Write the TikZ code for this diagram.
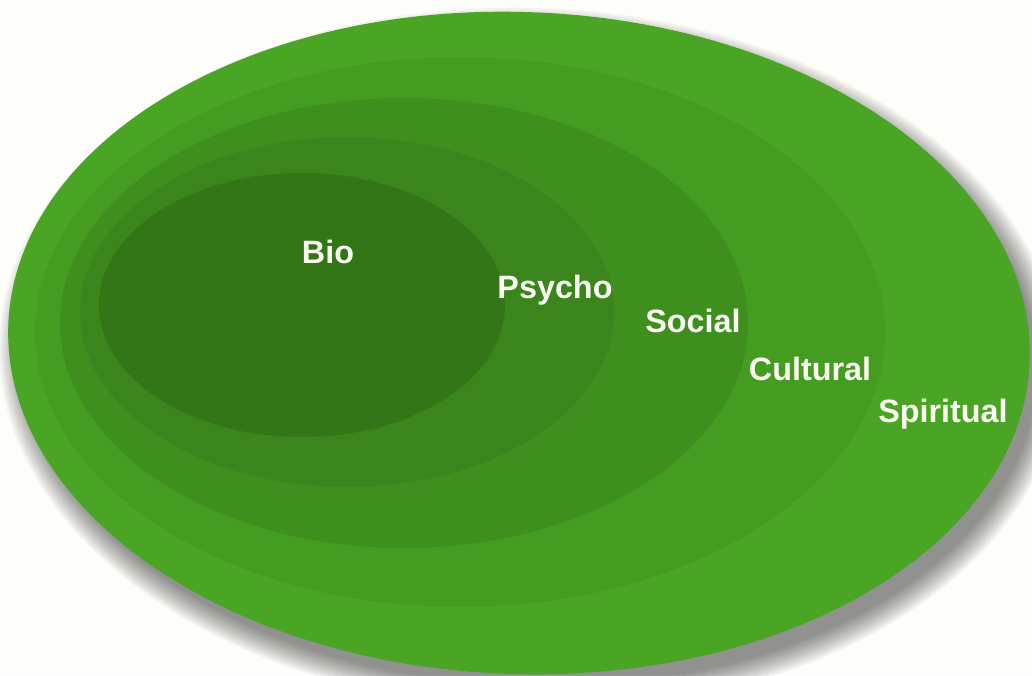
\documentclass[tikz,border=0pt]{standalone}
\usepackage{fontspec}
\setmainfont{Liberation Sans}
\usepackage{tikz}
\usetikzlibrary{positioning}

\definecolor{paper}{HTML}{FDFDFA}
\definecolor{ringA}{HTML}{4AA524}
\definecolor{ringB}{HTML}{449C21}
\definecolor{ringC}{HTML}{3F8F1F}
\definecolor{ringD}{HTML}{3A851C}
\definecolor{ringE}{HTML}{327617}
\definecolor{lblwhite}{HTML}{FAFAF2}

\tikzset{
	layer/.style={draw=none},
	lbl/.style={text=lblwhite, font=\fontsize{23}{27}\selectfont\bfseries, inner sep=0pt},
}

\begin{document}
\begin{tikzpicture}
		% page
		\fill[paper] (0,0) rectangle (25.8,16.875);
		\useasboundingbox (0,0) rectangle (25.8,16.875);

		% soft shadow
		\foreach \i in {0,...,12}
			\fill[black, opacity=0.04, rotate around={-2:(13.25,7.9)}]
				(13.25,7.9) ellipse ({12.775+0.5-0.05*\i} and {8.275+0.5-0.05*\i});

		% rings
		\fill[layer, ringA, rotate around={-2:(12.975,8.3)}] (12.975,8.3) ellipse (12.775 and 8.275);
		\fill[layer, ringB] (11.5,8.575) ellipse (10.625 and 6.875);
		\fill[layer, ringC] (10.1,8.8) ellipse (8.6 and 5.625);
		\fill[layer, ringD] (8.675,9.075) ellipse (6.675 and 4.375);
		\fill[layer, ringE] (7.55,9.25) ellipse (5.075 and 3.3);

		% labels
		\node[lbl] (bio) at (8.2,10.575) {Bio};
		\node[lbl] (psycho) at (13.875,9.625) {Psycho};
		\node[lbl] (social) at (17.325,8.85) {Social};
		\node[lbl] (cultural) at (20.25,7.65) {Cultural};
		\node[lbl] (spiritual) at (23.575,6.525) {Spiritual};

\end{tikzpicture}
\end{document}
